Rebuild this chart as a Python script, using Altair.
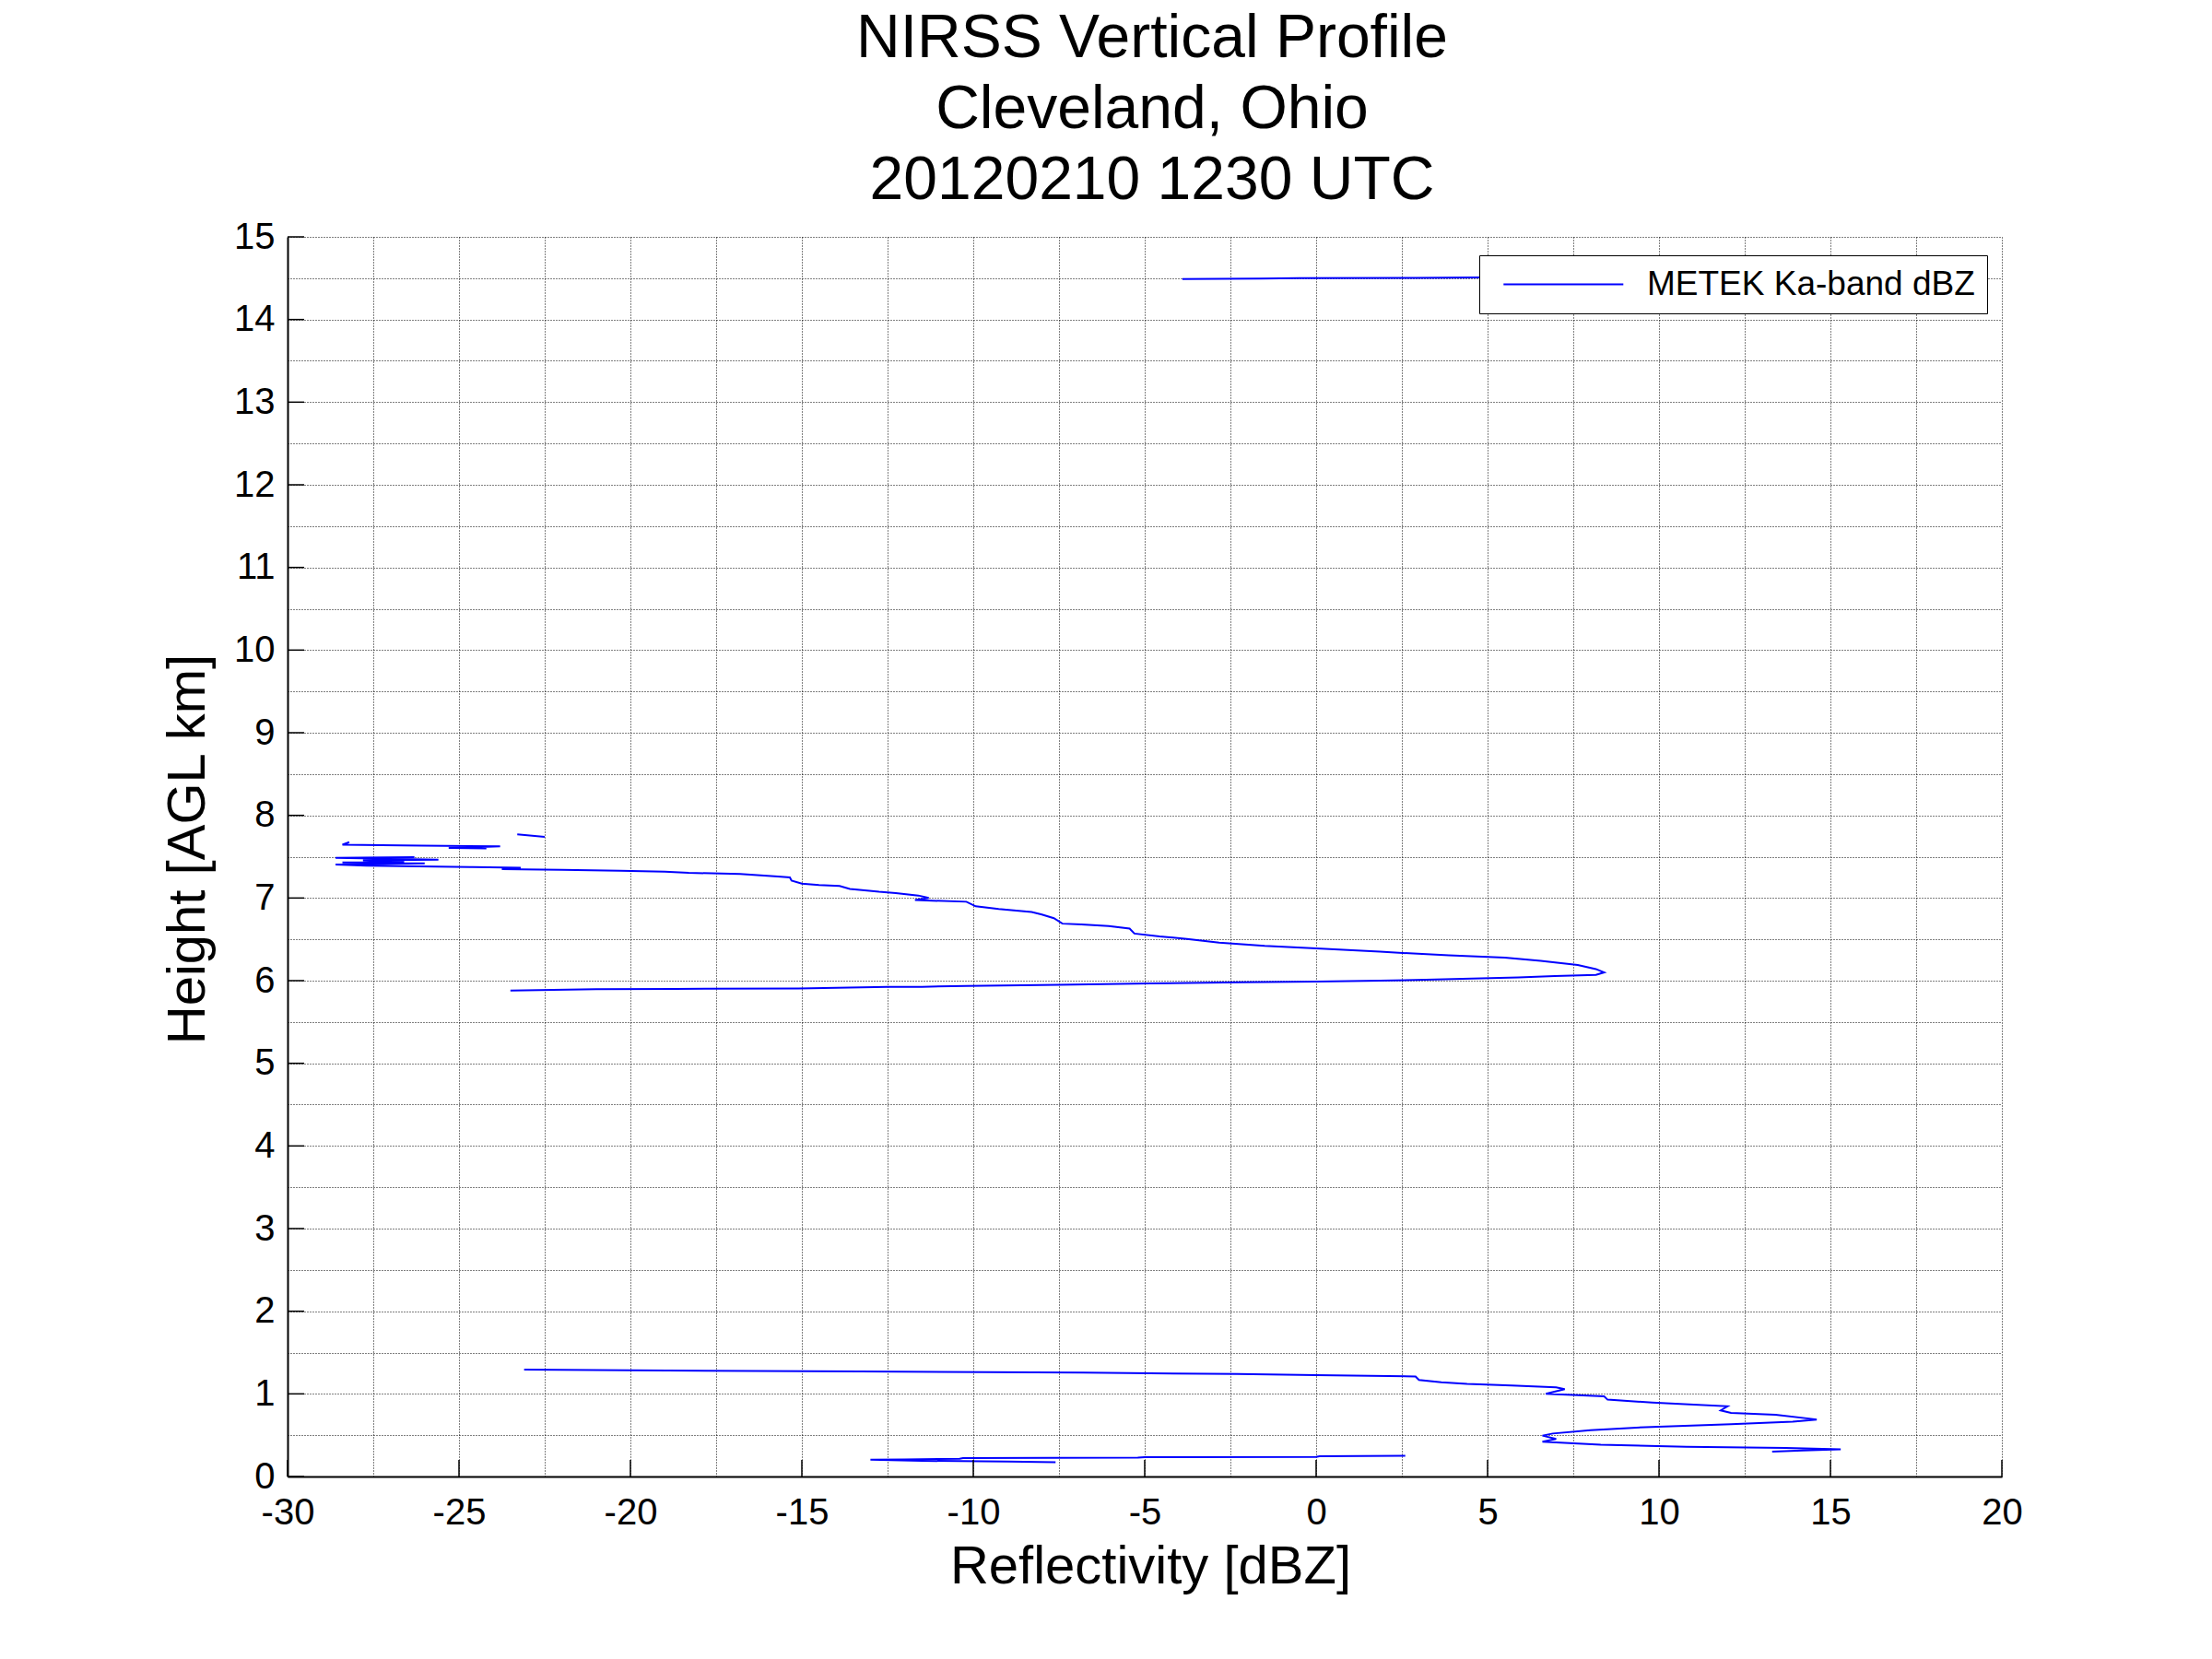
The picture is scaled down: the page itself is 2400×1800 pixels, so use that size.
import altair as alt
import pandas as pd

title_lines = ["NIRSS Vertical Profile", "Cleveland, Ohio", "20120210 1230 UTC"]
x_title = "Reflectivity [dBZ]"
y_title = "Height [AGL km]"
series_name = "METEK Ka-band dBZ"

# near-surface echo
seg1_dbz = [-7.6, -9.0, -11.5, -13.0, -12.0, -10.4, -10.3, -5.2, -5.0, 0.0, 0.1, 2.6]
seg1_km = [0.172, 0.180, 0.190, 0.203, 0.207, 0.215, 0.222, 0.228, 0.235, 0.238, 0.245, 0.250]

# lower cloud layer
seg2_dbz = [13.3, 14.2, 15.3, 13.7, 10.8, 8.3, 6.6, 7.0, 6.6, 6.9, 8.0, 9.6, 12.1, 13.9, 14.6,
            13.4, 12.1, 11.8, 12.0, 9.8, 8.5, 8.4, 6.7, 7.25, 7.0, 5.7, 4.4, 3.65, 3.0, 2.9,
            0.0, -2.3, -6.8, -13.3, -20.0, -23.1]
seg2_km = [0.300, 0.315, 0.330, 0.345, 0.360, 0.385, 0.420, 0.455, 0.495, 0.520, 0.560, 0.597,
           0.634, 0.664, 0.690, 0.746, 0.770, 0.800, 0.850, 0.895, 0.930, 0.970, 1.000, 1.056,
           1.080, 1.100, 1.120, 1.140, 1.168, 1.210, 1.228, 1.240, 1.257, 1.270, 1.284, 1.295]

# upper cloud layer
seg3_dbz = [-23.5, -21.0, -18.7, -15.1, -12.5, -11.5, -10.2, -7.5, -4.84, -2.16, 0.0, 1.86, 3.2,
            4.54, 5.9, 6.96, 8.16, 8.4, 8.16, 7.63, 6.55, 5.5, 3.87, 1.86, 0.0, -1.5, -2.83,
            -3.77, -4.57, -5.3, -5.44, -6.05, -6.85, -7.4, -7.65, -8.0, -8.3, -9.26, -9.93,
            -10.2, -11.7, -11.3, -11.6, -12.26, -12.75, -13.1, -13.6, -13.9, -14.5, -15.0,
            -15.3, -15.35, -15.7, -16.8, -18.3, -19.0, -20.3, -22.0, -23.75, -23.2, -24.6,
            -27.7, -28.6, -26.0, -28.4, -26.6, -27.8, -25.6, -28.6, -26.3]
seg3_km = [5.880, 5.896, 5.900, 5.905, 5.925, 5.926, 5.937, 5.950, 5.967, 5.980, 5.990, 6.000,
           6.010, 6.026, 6.040, 6.055, 6.070, 6.100, 6.140, 6.190, 6.240, 6.280, 6.306, 6.350,
           6.390, 6.420, 6.460, 6.505, 6.535, 6.570, 6.630, 6.660, 6.680, 6.690, 6.756, 6.800,
           6.830, 6.867, 6.900, 6.955, 6.975, 7.000, 7.030, 7.060, 7.075, 7.090, 7.110, 7.145,
           7.156, 7.175, 7.210, 7.250, 7.260, 7.290, 7.305, 7.320, 7.330, 7.340, 7.350, 7.365,
           7.375, 7.390, 7.405, 7.420, 7.430, 7.440, 7.455, 7.465, 7.485, 7.495]

# cloud-top fragments
seg4_dbz = [-24.2, -25.3, -23.8, -26.1, -28.4, -28.2]
seg4_km = [7.600, 7.605, 7.625, 7.635, 7.645, 7.675]
seg5_dbz = [-23.3, -22.5]
seg5_km = [7.770, 7.740]

# high echo
seg6_dbz = [-3.9, -1.6, -0.5, 2.9, 4.8, 6.0]
seg6_km = [14.490, 14.495, 14.500, 14.505, 14.510, 14.510]

segments = [(seg1_dbz, seg1_km), (seg2_dbz, seg2_km), (seg3_dbz, seg3_km),
            (seg4_dbz, seg4_km), (seg5_dbz, seg5_km), (seg6_dbz, seg6_km)]

rows = []
for s, (d, h) in enumerate(segments):
    for i, (dv, hv) in enumerate(zip(d, h)):
        rows.append({"seg": s, "idx": i, "dbz": dv, "km": hv, "series": series_name})
df = pd.DataFrame(rows)

x_major = [-30, -25, -20, -15, -10, -5, 0, 5, 10, 15, 20]
y_major = [0, 1, 2, 3, 4, 5, 6, 7, 8, 9, 10, 11, 12, 13, 14, 15]
x_grid = [-30, -27.5, -25, -22.5, -20, -17.5, -15, -12.5, -10, -7.5, -5, -2.5, 0,
          2.5, 5, 7.5, 10, 12.5, 15, 17.5, 20]
y_grid = [0, 0.5, 1, 1.5, 2, 2.5, 3, 3.5, 4, 4.5, 5, 5.5, 6, 6.5, 7, 7.5, 8, 8.5, 9, 9.5,
          10, 10.5, 11, 11.5, 12, 12.5, 13, 13.5, 14, 14.5, 15]

W, H = 1860, 1345
TICK = 18
FONT = "Liberation Sans"

xscale = alt.Scale(domain=[-30, 20], nice=False, zero=False)
yscale = alt.Scale(domain=[0, 15], nice=False, zero=False)

x_axis = alt.Axis(values=x_grid, title=x_title, grid=True, ticks=False, tickSize=0,
                  labelExpr="datum.value % 5 == 0 ? '' + datum.value : ''",
                  labelPadding=19, labelFlush=False, labelOverlap=False,
                  titleX=936, titleY=115, titleBaseline="alphabetic")
y_axis = alt.Axis(values=y_grid, title=y_title, grid=True, ticks=False, tickSize=0,
                  labelExpr="datum.value % 1 == 0 ? '' + datum.value : ''",
                  labelPadding=14, labelFlush=False, labelOverlap=False,
                  titleX=-91, titleY=664, titleBaseline="alphabetic")

line = alt.Chart(df).mark_line(strokeWidth=2).encode(
    x=alt.X("dbz:Q", scale=xscale, axis=x_axis),
    y=alt.Y("km:Q", scale=yscale, axis=y_axis),
    color=alt.Color("series:N", scale=alt.Scale(range=["#0000ff"]),
                    legend=alt.Legend(title=None, orient="none", legendX=1293, legendY=20,
                                      symbolType="M-0.4,0H9.6", symbolSize=676,
                                      symbolStrokeWidth=2, labelFontSize=37, labelOffset=132,
                                      labelLimit=800, labelBaseline="middle",
                                      padding=13, strokeColor="black",
                                      fillColor="white", labelFont=FONT, labelColor="black")),
    detail="seg:N",
    order="idx:Q",
)

xt = alt.Chart(pd.DataFrame({"v": x_major})).mark_rule(color="black", strokeWidth=1.5).encode(
    x=alt.X("v:Q", scale=xscale, axis=x_axis),
    y=alt.value(H),
    y2=alt.value(H - TICK),
)
yt = alt.Chart(pd.DataFrame({"v": y_major})).mark_rule(color="black", strokeWidth=1.5).encode(
    y=alt.Y("v:Q", scale=yscale, axis=y_axis),
    x=alt.value(0),
    x2=alt.value(TICK),
)

chart = alt.layer(line, xt, yt).properties(
    width=W,
    height=H,
    background="white",
    padding={"left": 304, "top": 249, "right": 220, "bottom": 190},
    autosize=alt.AutoSizeParams(type="none"),
    title=alt.TitleParams(text=title_lines, fontSize=66, font=FONT, fontWeight="normal",
                          lineHeight=77, anchor="middle", frame="group", offset=7, dx=8,
                          color="black"),
).configure_axis(
    domainColor="black", domainWidth=2,
    labelColor="black", labelFont=FONT, labelFontSize=40,
    titleFont=FONT, titleFontSize=58, titleFontWeight="normal", titleColor="black",
    gridColor="black", gridDash=[1, 2], gridWidth=1, gridOpacity=1,
).configure_view(strokeWidth=0, stroke="transparent")

chart.save("out.html", embed_options={"renderer": "svg", "actions": False})
